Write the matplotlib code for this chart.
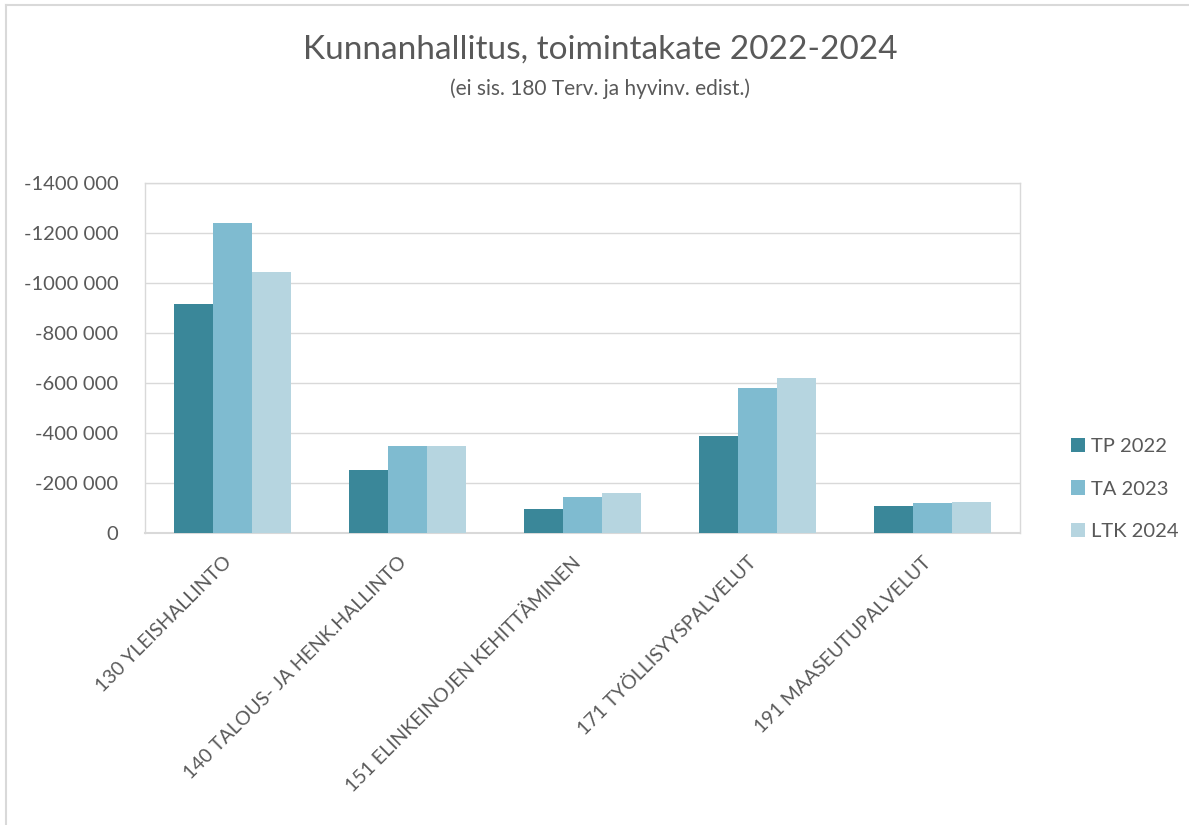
import numpy as np
import matplotlib
matplotlib.use("Agg")
import matplotlib.pyplot as plt
from matplotlib.lines import Line2D
from matplotlib.ticker import FuncFormatter, MultipleLocator
from matplotlib.transforms import ScaledTranslation

# data (euros, negative = cost)
categories = ["130 YLEISHALLINTO", "140 TALOUS- JA HENK.HALLINTO",
              "151 ELINKEINOJEN KEHITTÄMINEN", "171 TYÖLLISYYSPALVELUT",
              "191 MAASEUTUPALVELUT"]
tp_2022 = [-916000, -252000, -96000, -388000, -108000]
ta_2023 = [-1240000, -348000, -144000, -580000, -120000]
ltk_2024 = [-1044000, -348000, -160000, -620000, -124000]
series_names = ["TP 2022", "TA 2023", "LTK 2024"]
colors = ["#3A8799", "#7FBBD0", "#B6D5E0"]

text_col = "#595959"
grid_col = "#D9D9D9"
plt.rcParams["font.family"] = ["Lato", "DejaVu Sans"]

fig = plt.figure(figsize=(11.89, 8.25), dpi=100)
ax = fig.add_axes([145 / 1189, 1 - 533 / 825, 875 / 1189, 350 / 825])

x = np.arange(len(categories))
w = 0.223
for i, vals in enumerate([tp_2022, ta_2023, ltk_2024]):
    ax.bar(x + (i - 1) * w, vals, width=w, color=colors[i],
           label=series_names[i], zorder=3)

ax.set_xlim(-0.5, len(categories) - 0.5)
ax.set_ylim(0, -1400000)
ax.yaxis.set_major_locator(MultipleLocator(200000))


def fmt(v, pos):
    v = int(round(v))
    if v == 0:
        return "0"
    return f"{int(v / 1000)} {abs(v) % 1000:03d}"


ax.yaxis.set_major_formatter(FuncFormatter(fmt))
ax.grid(axis="y", color=grid_col, linewidth=1, zorder=0)
for s in ax.spines.values():
    s.set_color(grid_col)
    s.set_linewidth(1)
ax.spines["bottom"].set_linewidth(1.5)
ax.tick_params(axis="both", length=0, colors=text_col)
ax.tick_params(axis="y", pad=19, labelsize=14.5)

ax.set_xticks(x)
ax.set_xticklabels(categories, rotation=45, ha="right", va="top",
                   rotation_mode="anchor", fontsize=14, color=text_col)
ax.tick_params(axis="x", pad=15)
shift = ScaledTranslation(-0.10, 0, fig.dpi_scale_trans)
for lab in ax.get_xticklabels():
    lab.set_transform(lab.get_transform() + shift)

fig.text(0.505, 1 - 50 / 825, "Kunnanhallitus, toimintakate 2022-2024",
         ha="center", va="center", fontsize=24, color=text_col)
fig.text(0.505, 1 - 89 / 825, "(ei sis. 180 Terv. ja hyvinv. edist.)",
         ha="center", va="center", fontsize=15, color=text_col)

leg = fig.legend(loc="center left", bbox_to_anchor=(1053 / 1189, 1 - 489 / 825),
                 frameon=False, fontsize=14.5, labelcolor=text_col,
                 handlelength=0.7, handleheight=0.7, handletextpad=0.3,
                 labelspacing=1.25)

# outer chart border (left and top edges visible)
fig.add_artist(Line2D([6 / 1189, 6 / 1189], [0, 1 - 5 / 825],
                      transform=fig.transFigure, color=grid_col, linewidth=1.5))
fig.add_artist(Line2D([6 / 1189, 1], [1 - 5 / 825, 1 - 5 / 825],
                      transform=fig.transFigure, color=grid_col, linewidth=1.5))

fig.savefig("out.png", dpi=100, facecolor="white")
